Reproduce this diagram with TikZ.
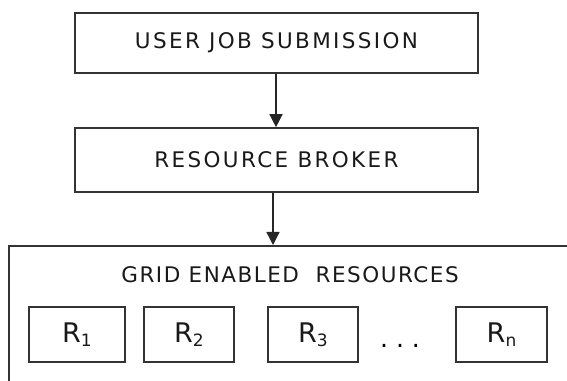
\documentclass[tikz,border=0pt]{standalone}
\usepackage{fontspec}
\setmainfont{DejaVu Sans}
\newfontfamily\boxfont[LetterSpace=11]{DejaVu Sans}
\newfontfamily\titlefont[LetterSpace=7]{DejaVu Sans}
\usetikzlibrary{arrows.meta}
\begin{document}
\begin{tikzpicture}[x=1pt,y=1pt,
  frame/.style={draw=black!80, line width=1.6pt},
  stage/.style={frame, minimum width=403pt, inner sep=0pt,
    font=\boxfont\fontsize{21.5}{26}\selectfont, text=black!90},
  res/.style={frame, minimum height=55pt, inner sep=0pt,
    font=\fontsize{27}{32}\selectfont, text=black!90},
  flow/.style={draw=black!85, line width=1.3pt,
    -{Triangle[width=13pt,length=13pt]}}]
\useasboundingbox (0,0) rectangle (567,380);
\clip (0,0) rectangle (567,380);

% the two processing stages
\node[stage, minimum height=60pt] (submit) at (276.5,337) {USER JOB SUBMISSION};
\node[stage, minimum height=64pt] (broker) at (276.5,220) {RESOURCE BROKER};

% container of grid resources (runs off the right and bottom edges)
\node[frame, minimum width=620pt, minimum height=200pt, anchor=north west,
  inner sep=0pt] (grid) at (8,135) {};
\node[font=\titlefont\fontsize{21.5}{26}\selectfont, text=black!90]
  (gridtitle) at (290,105) {GRID ENABLED\ \ RESOURCES};

% individual resources
\newcommand{\resname}[1]{R\raisebox{-0.3ex}{\fontsize{17}{20}\selectfont #1}}
\node[res, minimum width=96pt] (r1) at (77,45.5) {\resname{1}};
\node[res, minimum width=90pt] (r2) at (189,45.5) {\resname{2}};
\node[res, minimum width=90pt] (r3) at (313,45.5) {\resname{3}};
\node[font=\fontsize{25}{30}\selectfont, anchor=base] (dots) at (400,33) {.\ .\ .};
\node[res, minimum width=91pt] (rn) at (501.5,45.5) {\resname{n}};

% flow of a job
\coordinate (a1) at (276,0);
\coordinate (a2) at (273,0);
\draw[flow] (submit.south -| a1) -- (broker.north -| a1);
\draw[flow] (broker.south -| a2) -- (grid.north -| a2);
\end{tikzpicture}
\end{document}
